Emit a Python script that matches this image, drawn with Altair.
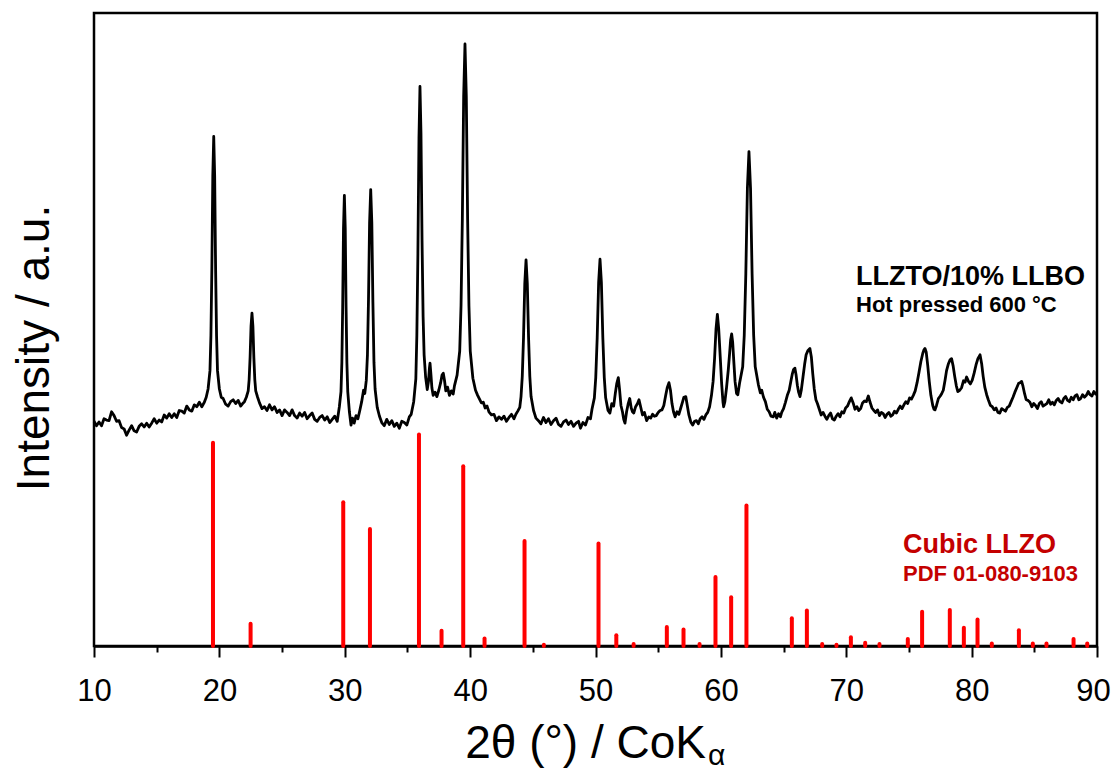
import altair as alt
import pandas as pd

seg_10_19 = [
    (10.0, 35.5), (10.2, 34.8), (10.4, 35.4), (10.6, 34.8), (10.8, 35.9), (11.0, 35.7),
    (11.2, 35.6), (11.4, 37.0), (11.6, 36.4), (11.8, 35.5), (12.0, 35.6), (12.2, 34.5),
    (12.4, 34.3), (12.6, 33.3), (12.8, 34.1), (13.0, 34.8), (13.2, 34.0), (13.4, 33.8),
    (13.6, 34.7), (13.8, 35.1), (14.0, 34.6), (14.2, 35.2), (14.4, 34.6), (14.6, 35.2),
    (14.8, 35.9), (15.0, 35.2), (15.2, 35.7), (15.4, 35.4), (15.6, 36.5), (15.8, 36.0),
    (16.0, 36.7), (16.2, 36.1), (16.4, 36.7), (16.6, 36.1), (16.8, 37.2), (17.0, 37.1),
    (17.2, 36.8), (17.4, 37.9), (17.6, 37.3), (17.8, 37.1), (18.0, 38.1), (18.2, 37.8),
    (18.4, 38.5), (18.6, 37.8), (18.8, 38.5),
]
seg_19_23 = [
    (18.95, 39.3), (19.10, 40.6), (19.25, 43.5), (19.325, 49.0), (19.40, 59.5), (19.475, 74.2),
    (19.55, 80.5), (19.625, 74.2), (19.70, 59.5), (19.775, 49.0), (19.85, 43.5), (20.0, 40.6),
    (20.15, 39.3), (20.3, 39.1), (20.5, 38.2), (20.7, 37.9), (20.9, 38.6), (21.1, 38.9),
    (21.3, 38.3), (21.5, 38.8), (21.7, 37.9), (21.9, 38.4), (22.0, 38.6), (22.15, 39.3),
    (22.3, 40.3), (22.375, 42.1), (22.45, 45.6), (22.525, 50.5), (22.6, 52.6), (22.675, 50.5),
    (22.75, 45.6), (22.825, 42.1), (22.9, 40.3), (23.05, 39.3),
]
seg_23_30 = [
    (23.2, 38.4), (23.4, 37.5), (23.6, 37.8), (23.8, 37.2), (24.0, 38.1), (24.2, 37.3),
    (24.4, 37.8), (24.6, 36.9), (24.8, 37.3), (25.0, 36.4), (25.2, 37.3), (25.4, 36.9),
    (25.6, 36.4), (25.8, 37.3), (26.0, 36.4), (26.2, 36.0), (26.4, 36.8), (26.6, 36.3),
    (26.8, 36.9), (27.0, 35.9), (27.2, 36.4), (27.4, 36.8), (27.6, 35.8), (27.8, 35.5),
    (28.0, 36.1), (28.2, 36.4), (28.4, 35.7), (28.6, 36.2), (28.8, 35.3), (29.0, 35.8),
    (29.2, 36.3), (29.4, 35.5), (29.57, 37.8), (29.70, 40.2), (29.77, 44.8), (29.835, 53.6),
    (29.90, 65.9), (29.97, 71.2), (30.04, 65.9), (30.105, 53.6), (30.17, 44.8), (30.24, 40.2),
    (30.37, 37.0), (30.5, 34.9),
]
seg_30_36 = [
    (30.62, 36.0), (30.75, 35.2), (30.9, 36.4), (31.05, 35.9), (31.2, 37.2), (31.35, 38.6),
    (31.5, 40.4), (31.6, 39.9), (31.72, 42.0), (31.81, 46.0), (31.895, 54.8), (31.98, 66.8),
    (32.07, 72.1), (32.16, 66.8), (32.245, 54.3), (32.33, 44.8), (32.42, 40.6), (32.59, 37.7),
    (32.77, 36.3), (32.95, 35.3), (33.15, 34.8), (33.35, 35.8), (33.55, 35.0), (33.75, 35.6),
    (33.95, 34.7), (34.15, 35.2), (34.35, 34.4), (34.55, 35.5), (34.75, 35.3), (34.95, 34.9),
    (35.15, 36.2), (35.3, 36.6), (35.5, 38.6), (35.67, 42.2), (35.75, 49.0), (35.835, 62.0),
    (35.92, 80.2), (36.0, 88.4), (36.08, 81.0), (36.165, 64.0), (36.25, 52.0), (36.33, 46.0),
]
seg_36_43 = [
    (36.45, 42.5), (36.58, 40.5), (36.68, 41.8), (36.75, 43.8), (36.80, 44.7), (36.87, 43.0),
    (36.95, 40.8), (37.05, 39.6), (37.2, 40.1), (37.35, 39.4), (37.5, 40.4), (37.65, 41.6),
    (37.76, 42.8), (37.86, 43.1), (37.96, 41.9), (38.06, 40.3), (38.2, 40.9), (38.35, 39.6),
    (38.5, 40.3), (38.65, 39.8), (38.75, 41.1), (38.96, 42.8), (39.17, 46.6), (39.275, 53.8),
    (39.38, 67.5), (39.485, 86.8), (39.59, 95.1), (39.695, 86.8), (39.80, 67.5), (39.905, 53.8),
    (40.01, 46.6), (40.22, 42.3), (40.43, 40.4), (40.6, 39.6), (40.75, 39.0), (40.9, 38.4),
    (41.05, 38.5), (41.2, 37.6), (41.35, 37.9), (41.5, 37.0), (41.7, 36.5), (41.9, 36.6),
    (42.1, 35.6), (42.3, 36.2), (42.5, 35.8), (42.7, 36.3), (42.9, 35.5),
]
seg_43_51 = [
    (43.1, 36.1), (43.3, 36.6), (43.5, 35.9), (43.65, 36.6), (43.8, 37.1), (43.96, 37.7),
    (44.06, 39.4), (44.16, 42.6), (44.26, 48.8), (44.36, 57.3), (44.46, 61.0), (44.56, 57.3),
    (44.66, 48.8), (44.76, 42.6), (44.86, 39.4), (45.06, 37.2), (45.25, 36.0), (45.45, 35.6),
    (45.65, 35.1), (45.85, 36.1), (46.05, 35.3), (46.25, 35.9), (46.45, 35.0), (46.65, 35.6),
    (46.85, 36.0), (47.05, 35.0), (47.25, 34.7), (47.45, 35.4), (47.65, 35.7), (47.85, 35.0),
    (48.05, 35.5), (48.25, 34.7), (48.45, 35.2), (48.65, 35.5), (48.8, 34.4), (49.0, 35.3),
    (49.2, 34.9), (49.4, 36.1), (49.6, 35.9), (49.72, 37.4), (49.91, 39.2), (50.02, 42.4),
    (50.135, 48.7), (50.25, 57.4), (50.36, 61.1), (50.47, 57.4), (50.585, 48.7), (50.70, 42.4),
    (50.81, 39.2), (51.0, 37.2),
]
seg_51_59 = [
    (51.15, 36.8), (51.3, 38.3), (51.45, 37.9), (51.58, 39.9), (51.70, 41.5), (51.82, 42.4),
    (51.92, 40.5), (52.03, 38.0), (52.15, 37.0), (52.25, 35.8), (52.35, 35.2), (52.48, 37.0),
    (52.6, 38.2), (52.73, 39.1), (52.85, 37.6), (52.95, 37.0), (53.05, 36.8), (53.2, 37.8),
    (53.35, 38.3), (53.47, 38.9), (53.6, 37.8), (53.75, 36.5), (53.9, 36.9), (54.08, 35.6),
    (54.25, 36.2), (54.4, 36.0), (54.55, 36.6), (54.7, 36.3), (54.85, 36.4), (55.0, 36.9),
    (55.15, 37.2), (55.3, 37.3), (55.45, 38.0), (55.6, 39.6), (55.72, 40.8), (55.86, 41.6),
    (55.98, 40.4), (56.1, 38.3), (56.22, 37.0), (56.35, 36.2), (56.5, 37.0), (56.65, 36.6),
    (56.8, 37.6), (56.95, 38.6), (57.05, 39.3), (57.2, 39.4), (57.32, 38.0), (57.45, 36.5),
    (57.6, 35.4), (57.75, 34.9), (57.9, 35.5), (58.05, 35.6), (58.2, 35.1), (58.35, 35.9),
    (58.5, 36.2), (58.65, 35.8), (58.8, 36.5), (58.95, 36.9), (59.1, 37.8),
]
seg_59_64 = [
    (59.25, 39.6), (59.38, 41.8), (59.50, 45.5), (59.61, 50.0), (59.72, 52.4), (59.83, 50.0),
    (59.945, 45.8), (60.06, 41.5), (60.17, 38.5), (60.22, 37.8), (60.32, 38.6), (60.45, 40.8),
    (60.59, 43.6), (60.70, 46.3), (60.78, 48.4), (60.86, 49.3), (60.94, 48.0), (61.03, 45.0),
    (61.13, 41.8), (61.25, 39.9), (61.35, 39.7), (61.49, 41.5), (61.74, 44.1), (61.865, 49.1),
    (61.99, 58.8), (62.115, 72.3), (62.24, 78.1), (62.365, 72.3), (62.49, 58.8), (62.615, 49.1),
    (62.74, 44.1), (62.99, 41.3), (63.15, 40.0), (63.26, 40.4), (63.4, 39.3), (63.55, 38.6),
    (63.7, 37.4), (63.85, 37.0), (64.0, 36.3),
]
seg_64_72 = [
    (64.18, 36.2), (64.3, 36.9), (64.45, 36.0), (64.6, 36.7), (64.75, 36.2), (64.85, 36.9),
    (65.0, 37.5), (65.15, 38.5), (65.3, 39.6), (65.45, 40.4), (65.58, 41.8), (65.7, 43.0),
    (65.8, 43.7), (65.9, 43.9), (66.0, 42.8), (66.1, 41.2), (66.2, 40.1), (66.31, 39.4),
    (66.42, 40.5), (66.55, 42.5), (66.68, 44.5), (66.8, 46.0), (66.95, 46.7), (67.1, 47.0),
    (67.22, 45.6), (67.33, 43.0), (67.45, 40.6), (67.58, 38.9), (67.7, 38.3), (67.85, 37.4),
    (68.0, 36.5), (68.15, 36.9), (68.3, 36.3), (68.45, 35.8), (68.6, 36.4), (68.75, 36.8),
    (68.9, 35.9), (69.05, 35.7), (69.2, 36.3), (69.35, 36.7), (69.5, 36.2), (69.65, 37.0),
    (69.8, 36.8), (69.95, 37.6), (70.1, 37.9), (70.25, 38.6), (70.4, 39.2), (70.55, 38.4),
    (70.7, 37.4), (70.85, 37.8), (71.0, 37.2), (71.15, 37.5), (71.3, 38.4), (71.45, 38.7),
    (71.6, 38.6), (71.76, 39.5), (71.9, 38.5),
]
seg_72_81 = [
    (72.05, 37.6), (72.2, 37.2), (72.35, 36.9), (72.5, 37.3), (72.65, 36.4), (72.8, 36.9),
    (72.95, 36.7), (73.1, 36.1), (73.25, 36.6), (73.4, 36.9), (73.55, 36.3), (73.7, 36.5),
    (73.85, 37.1), (74.0, 36.8), (74.15, 37.4), (74.3, 37.9), (74.45, 37.5), (74.6, 38.1),
    (74.75, 38.6), (74.9, 38.3), (75.05, 39.2), (75.2, 39.0), (75.35, 39.6), (75.5, 40.3),
    (75.65, 41.6), (75.8, 43.2), (75.95, 44.9), (76.1, 46.2), (76.2, 46.8), (76.28, 47.0),
    (76.38, 46.4), (76.5, 44.3), (76.62, 41.8), (76.75, 39.6), (76.9, 38.0), (77.0, 37.4),
    (77.08, 37.3), (77.2, 38.0), (77.35, 39.1), (77.5, 39.5), (77.62, 39.9), (77.74, 40.4),
    (77.88, 42.0), (78.0, 43.5), (78.15, 44.6), (78.28, 45.2), (78.4, 45.4), (78.52, 44.3),
    (78.65, 42.6), (78.78, 41.1), (78.9, 40.2), (79.05, 40.4), (79.2, 40.8), (79.35, 41.9),
    (79.48, 41.7), (79.6, 42.5), (79.75, 41.8), (79.9, 41.4), (80.05, 42.0), (80.2, 43.1),
    (80.35, 44.4), (80.5, 45.4), (80.67, 46.0), (80.8, 44.6), (80.92, 42.6),
]
seg_81_90 = [
    (81.05, 40.9), (81.2, 39.7), (81.33, 38.9), (81.5, 38.0), (81.65, 37.8), (81.8, 37.3),
    (81.95, 37.6), (82.1, 36.9), (82.25, 36.8), (82.4, 37.5), (82.55, 37.3), (82.7, 37.1),
    (82.85, 37.7), (83.0, 37.9), (83.15, 38.6), (83.3, 39.3), (83.45, 40.1), (83.6, 40.8),
    (83.75, 41.5), (83.87, 41.6), (83.99, 41.8), (84.1, 41.0), (84.22, 39.9), (84.35, 38.9),
    (84.5, 38.8), (84.65, 38.5), (84.8, 37.8), (84.95, 38.3), (85.1, 38.0), (85.25, 37.5),
    (85.4, 38.3), (85.55, 38.6), (85.7, 37.9), (85.85, 38.1), (86.0, 38.3), (86.15, 38.9),
    (86.3, 38.2), (86.45, 38.5), (86.6, 38.1), (86.75, 38.8), (86.9, 39.1), (87.05, 38.6),
    (87.2, 38.4), (87.35, 39.1), (87.5, 39.4), (87.65, 38.8), (87.8, 38.6), (87.95, 39.3),
    (88.1, 38.9), (88.25, 39.5), (88.4, 39.7), (88.55, 38.9), (88.7, 39.1), (88.85, 39.7),
    (89.0, 39.3), (89.15, 39.6), (89.3, 40.2), (89.45, 39.7), (89.6, 39.5), (89.75, 40.2),
    (89.9, 39.8), (90.0, 40.1),
]

# ---- reference pattern: Cubic LLZO, PDF 01-080-9103 ----
ref_pos = [
    19.49, 22.49, 29.88, 32.01, 35.92, 37.72, 39.45, 41.15, 44.34, 45.88,
    50.24, 51.66, 53.04, 55.69, 57.02, 58.30, 59.57, 60.82, 62.04, 65.66,
    66.86, 68.08, 69.22, 70.37, 71.51, 72.65, 74.91, 76.05, 78.26, 79.38,
    80.47, 81.61, 83.77, 84.88, 85.97, 88.13, 89.22,
]
ref_h = [
    32.1, 3.5, 22.7, 18.5, 33.4, 2.4, 28.4, 1.2, 16.6, 0.2,
    16.2, 1.7, 0.3, 3.0, 2.6, 0.3, 10.9, 7.7, 22.2, 4.4,
    5.6, 0.3, 0.2, 1.4, 0.5, 0.3, 1.1, 5.4, 5.7, 2.9,
    4.2, 0.4, 2.5, 0.4, 0.4, 1.1, 0.4,
]

x_ticks = [10, 15, 20, 25, 30, 35, 40, 45, 50, 55, 60, 65, 70, 75, 80, 85, 90]

FONT = "Liberation Sans"

segments = [seg_10_19, seg_19_23, seg_23_30, seg_30_36, seg_36_43, seg_43_51,
            seg_51_59, seg_59_64, seg_64_72, seg_72_81, seg_81_90]
points = [p for seg in segments for p in seg]
xrd = pd.DataFrame(points, columns=["two_theta", "intensity"])
ref = pd.DataFrame({"pos": ref_pos, "h": ref_h, "base": [0.0] * len(ref_pos)})

xscale = alt.Scale(domain=[10, 90], nice=False, zero=False)
yscale = alt.Scale(domain=[0, 100], nice=False, zero=False)

xaxis = alt.Axis(
    values=x_ticks,
    labelExpr="datum.value % 10 === 0 ? datum.label : ''",
    title=None,
    grid=False,
    ticks=True,
    tickSize={"condition": {"test": "datum.value % 10 !== 0", "value": 6}, "value": 11},
    tickWidth=2,
    tickColor="black",
    domainColor="black",
    domainWidth=2.5,
    labelFont=FONT,
    labelFontSize=31,
    labelColor="black",
    labelPadding=19,
    labelOffset={"condition": {"test": "datum.value === 90", "value": -4}, "value": 0},
    labelFlush=False,
    labelOverlap=False,
)

sticks = alt.Chart(ref).mark_rule(
    color="#ff0000", strokeWidth=4, strokeCap="round"
).encode(
    x=alt.X("pos:Q", scale=xscale, axis=xaxis),
    y=alt.Y("h:Q", scale=yscale, axis=None),
    y2="base:Q",
)

line = alt.Chart(xrd).mark_line(
    color="black", strokeWidth=2.8, strokeJoin="round"
).encode(
    x=alt.X("two_theta:Q", scale=xscale),
    y=alt.Y("intensity:Q", scale=yscale, axis=None),
)


def label(text, x, y, size, color="black", weight="normal", align="left", angle=0):
    return alt.Chart(pd.DataFrame({"t": [text]})).mark_text(
        font=FONT, fontSize=size, fontWeight=weight, color=color,
        align=align, baseline="alphabetic", angle=angle,
    ).encode(x=alt.value(x), y=alt.value(y), text="t:N")


texts = [
    label("LLZTO/10% LLBO", 762, 272, 27, weight="bold"),
    label("Hot pressed 600 °C", 762, 299, 22, weight="bold"),
    label("Cubic LLZO", 809, 540, 27, color="#c40000", weight="bold"),
    label("PDF 01-080-9103", 809, 568, 22, color="#c40000", weight="bold"),
    label("2θ (°) / CoK", 612, 745, 46, align="right"),
    label("α", 614, 752, 30),
    label("Intensity / a.u.", -45, 335, 46, align="center", angle=270),
]

chart = alt.layer(line, sticks, *texts).properties(
    width=1003,
    height=633,
    autosize=alt.AutoSizeParams(type="none"),
    padding={"left": 86, "top": 5, "right": 14, "bottom": 126},
    background="white",
).configure_view(stroke="black", strokeWidth=2.5)

chart.save("out.html", embed_options={"renderer": "svg", "actions": False})
